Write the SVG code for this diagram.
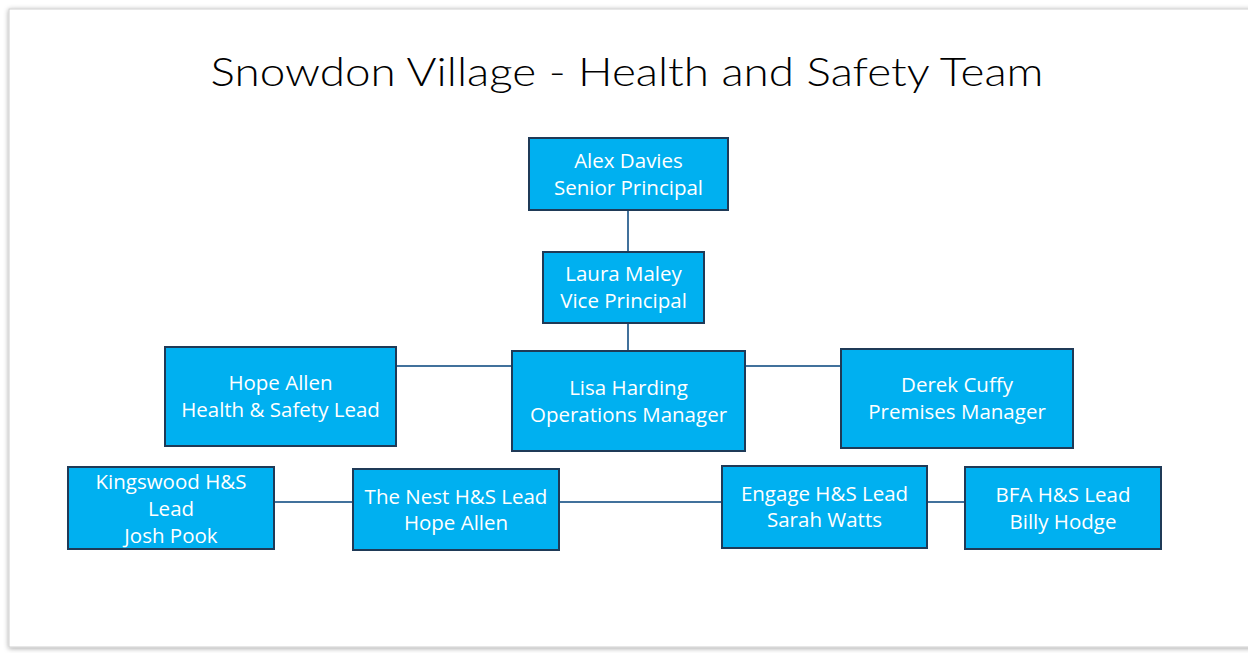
<svg xmlns="http://www.w3.org/2000/svg" width="1248" height="653" viewBox="0 0 1248 653">
<defs>
<filter id="sh" x="-5%" y="-5%" width="110%" height="110%">
<feGaussianBlur in="SourceAlpha" stdDeviation="2.5"/>
<feOffset dx="0" dy="1" result="b"/>
<feFlood flood-color="#000" flood-opacity="0.35"/>
<feComposite in2="b" operator="in"/>
<feMerge><feMergeNode/><feMergeNode in="SourceGraphic"/></feMerge>
</filter>
<style>
.box{fill:#00B0F0;stroke:#1F3A57;stroke-width:2}
.lbl{font-family:"Open Sans","Noto Sans","Liberation Sans",sans-serif;font-size:20.5px;fill:#ffffff;text-anchor:middle}
.con{stroke:#41719C;stroke-width:2;fill:none}
.title{font-family:"Lato","Liberation Sans",sans-serif;font-weight:300;font-size:40px;fill:#000000;text-anchor:middle}
</style>
</defs>
<rect x="0" y="0" width="1248" height="653" fill="#ffffff"/>
<rect x="9" y="9" width="1260" height="638" fill="#ffffff" stroke="#cfcfcf" stroke-width="1" filter="url(#sh)"/>
<text class="title" x="627" y="86" textLength="833" lengthAdjust="spacingAndGlyphs">Snowdon Village - Health and Safety Team</text>
<g id="connectors">
<line class="con" x1="628" y1="210" x2="628" y2="252"/>
<line class="con" x1="628" y1="323" x2="628" y2="351"/>
<line class="con" x1="396" y1="366" x2="512" y2="366"/>
<line class="con" x1="745" y1="366" x2="841" y2="366"/>
<line class="con" x1="274" y1="502" x2="353" y2="502"/>
<line class="con" x1="559" y1="502" x2="722" y2="502"/>
<line class="con" x1="927" y1="502" x2="965" y2="502"/>
</g>
<g id="alex-davies">
<rect class="box" x="529" y="138" width="199" height="72"/>
<text class="lbl" x="628.5" y="168">Alex Davies</text>
<text class="lbl" x="628.5" y="195">Senior Principal</text>
</g>
<g id="laura-maley">
<rect class="box" x="543" y="252" width="161" height="71"/>
<text class="lbl" x="623.5" y="281">Laura Maley</text>
<text class="lbl" x="623.5" y="308">Vice Principal</text>
</g>
<g id="hope-allen">
<rect class="box" x="165" y="347" width="231" height="99"/>
<text class="lbl" x="280.5" y="390">Hope Allen</text>
<text class="lbl" x="280.5" y="417">Health &amp; Safety Lead</text>
</g>
<g id="lisa-harding">
<rect class="box" x="512" y="351" width="233" height="100"/>
<text class="lbl" x="628.5" y="395">Lisa Harding</text>
<text class="lbl" x="628.5" y="422">Operations Manager</text>
</g>
<g id="derek-cuffy">
<rect class="box" x="841" y="349" width="232" height="99"/>
<text class="lbl" x="957" y="392">Derek Cuffy</text>
<text class="lbl" x="957" y="419">Premises Manager</text>
</g>
<g id="kingswood">
<rect class="box" x="68" y="467" width="206" height="82"/>
<text class="lbl" x="171" y="489">Kingswood H&amp;S</text>
<text class="lbl" x="171" y="516">Lead</text>
<text class="lbl" x="171" y="543">Josh Pook</text>
</g>
<g id="the-nest">
<rect class="box" x="353" y="469" width="206" height="81"/>
<text class="lbl" x="456" y="504">The Nest H&amp;S Lead</text>
<text class="lbl" x="456" y="530">Hope Allen</text>
</g>
<g id="engage">
<rect class="box" x="722" y="466" width="205" height="82"/>
<text class="lbl" x="824.5" y="501">Engage H&amp;S Lead</text>
<text class="lbl" x="824.5" y="527">Sarah Watts</text>
</g>
<g id="bfa">
<rect class="box" x="965" y="467" width="196" height="82"/>
<text class="lbl" x="1063" y="502">BFA H&amp;S Lead</text>
<text class="lbl" x="1063" y="529">Billy Hodge</text>
</g>
</svg>
